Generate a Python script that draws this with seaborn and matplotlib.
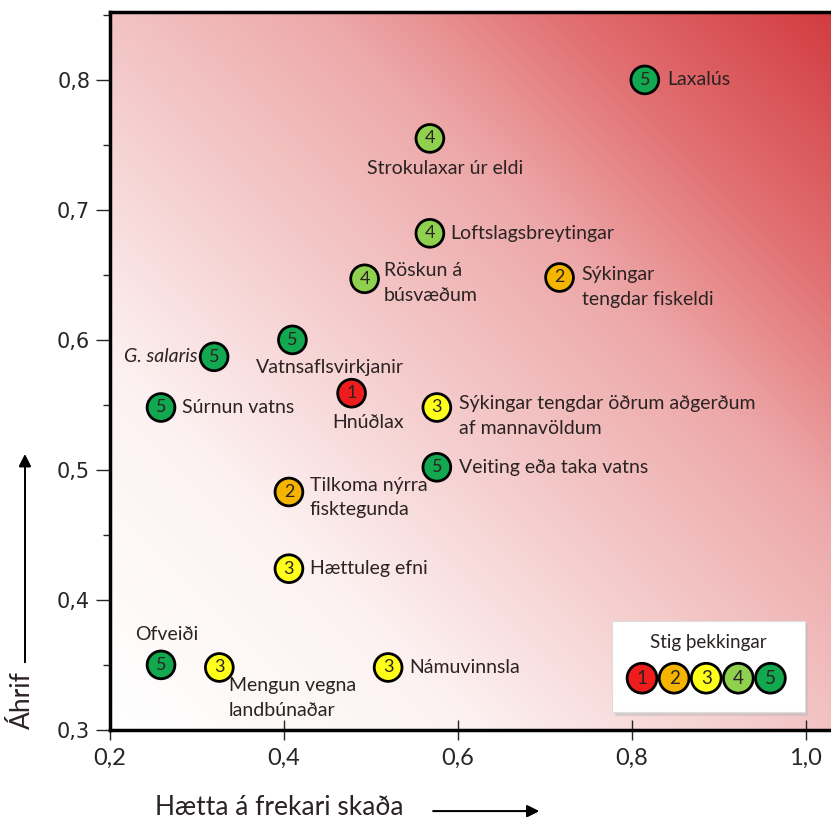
import numpy as np
import pandas as pd
import matplotlib
matplotlib.use("Agg")
import matplotlib.pyplot as plt
import seaborn as sns
from matplotlib.colors import LinearSegmentedColormap
from matplotlib.patches import Rectangle
from matplotlib.ticker import FuncFormatter, MultipleLocator

# data
names = ["Laxalús", "Strokulaxar úr eldi", "Loftslagsbreytingar", "Röskun á\nbúsvæðum",
         "Sýkingar\ntengdar fiskeldi", "Vatnsaflsvirkjanir", "G. salaris", "Hnúðlax",
         "Súrnun vatns", "Sýkingar tengdar öðrum aðgerðum\naf mannavöldum",
         "Veiting eða taka vatns", "Tilkoma nýrra\nfisktegunda", "Hættuleg efni",
         "Ofveiði", "Mengun vegna\nlandbúnaðar", "Námuvinnsla"]
risk = [0.815, 0.568, 0.568, 0.493, 0.717, 0.410, 0.320, 0.478,
        0.259, 0.576, 0.576, 0.406, 0.406, 0.259, 0.326, 0.520]
impact = [0.800, 0.755, 0.682, 0.647, 0.648, 0.600, 0.587, 0.559,
          0.548, 0.548, 0.502, 0.483, 0.424, 0.350, 0.348, 0.348]
knowledge = [5, 4, 4, 4, 2, 5, 5, 1, 5, 3, 5, 2, 3, 5, 3, 3]
levels = [1, 2, 3, 4, 5]
level_colors = ["#ee1c1c", "#f5b400", "#ffff1a", "#8fd14f", "#11a84f"]
x_ticks = [0.2, 0.4, 0.6, 0.8, 1.0]
y_ticks = [0.3, 0.4, 0.5, 0.6, 0.7, 0.8]

# label offsets in points (dx, dy, ha, va)
offsets = {
    "Laxalús": (16, 0, "left", "center"),
    "Strokulaxar úr eldi": (11, -22, "center", "center"),
    "Loftslagsbreytingar": (15, 0, "left", "center"),
    "Röskun á\nbúsvæðum": (14, 12, "left", "top"),
    "Sýkingar\ntengdar fiskeldi": (16, 8, "left", "top"),
    "Vatnsaflsvirkjanir": (27, -20, "center", "center"),
    "G. salaris": (-12, 0, "right", "center"),
    "Hnúðlax": (12, -21, "center", "center"),
    "Súrnun vatns": (15, 0, "left", "center"),
    "Sýkingar tengdar öðrum aðgerðum\naf mannavöldum": (16, 9, "left", "top"),
    "Veiting eða taka vatns": (16, 0, "left", "center"),
    "Tilkoma nýrra\nfisktegunda": (15, 11, "left", "top"),
    "Hættuleg efni": (15, 0, "left", "center"),
    "Ofveiði": (4, 22, "center", "center"),
    "Mengun vegna\nlandbúnaðar": (7, -7, "left", "top"),
    "Námuvinnsla": (15, 0, "left", "center"),
}

df = pd.DataFrame({"name": names, "risk": risk, "impact": impact, "level": knowledge})
palette = dict(zip(levels, level_colors))

sns.set_style("white")
plt.rcParams["font.family"] = ["Lato", "DejaVu Sans"]
txt_color = "#2b2222"

fig = plt.figure(figsize=(8.31, 8.21), dpi=100)
ax = fig.add_axes([0.132, 0.111, 0.868, 0.874])
xlim = (0.2, 1.029)
ylim = (0.3, 0.852)

# diagonal white -> red background
u, v = np.meshgrid(np.linspace(0, 1, 300), np.linspace(0, 1, 300))
t = (u + v) / 2
cmap = LinearSegmentedColormap.from_list("bg", [
    (0.0, "#ffffff"), (0.25, "#fdf2f2"), (0.5, "#f3c3c3"),
    (0.65, "#eda8a9"), (0.82, "#e16e70"), (1.0, "#d23c41")])
ax.imshow(t, cmap=cmap, origin="lower", extent=[*xlim, *ylim], aspect="auto",
          zorder=0, vmin=0, vmax=1)

sns.scatterplot(data=df, x="risk", y="impact", hue="level", palette=palette,
                s=400, edgecolor="black", linewidth=2, legend=False, ax=ax, zorder=3)

for _, r in df.iterrows():
    ax.text(r["risk"], r["impact"], str(r["level"]), ha="center", va="center",
            fontsize=13, color=txt_color, zorder=4)
    dx, dy, ha, va = offsets[r["name"]]
    style = "italic" if r["name"] == "G. salaris" else "normal"
    ax.annotate(r["name"], (r["risk"], r["impact"]), xytext=(dx, dy),
                textcoords="offset points", ha=ha, va=va, fontsize=14,
                color=txt_color, style=style, linespacing=1.55, zorder=4)

ax.set_xlim(*xlim)
ax.set_ylim(*ylim)
ax.set_xticks(x_ticks)
ax.set_yticks(y_ticks)
ax.yaxis.set_minor_locator(MultipleLocator(0.05))
comma = FuncFormatter(lambda val, pos: f"{val:.1f}".replace(".", ","))
ax.xaxis.set_major_formatter(comma)
ax.yaxis.set_major_formatter(comma)
ax.tick_params(axis="x", which="major", direction="inout", length=14, width=1,
               labelsize=17, pad=6, bottom=True)
ax.tick_params(axis="y", which="major", direction="out", length=10, width=1,
               labelsize=15, pad=4, left=True)
ax.tick_params(axis="y", which="minor", direction="out", length=5, width=1, left=True)
for lab in ax.get_yticklabels():
    lab.set_fontfamily("DejaVu Sans")
    lab.set_fontsize(15)
ax.set_xlabel("")
ax.set_ylabel("")
for side in ["left", "bottom", "top"]:
    ax.spines[side].set_linewidth(2.5)
    ax.spines[side].set_color("black")
ax.spines["right"].set_visible(False)

# knowledge legend box
ax.add_patch(Rectangle((0.700, 0.020), 0.268, 0.127, transform=ax.transAxes,
                       facecolor="#bbbbbb", edgecolor="none", alpha=0.5, zorder=5))
ax.add_patch(Rectangle((0.696, 0.025), 0.268, 0.127, transform=ax.transAxes,
                       facecolor="white", edgecolor="#dddddd", linewidth=0.8, zorder=6))
ax.text(0.830, 0.122, "Stig þekkingar", transform=ax.transAxes, ha="center",
        va="center", fontsize=13.5, color=txt_color, zorder=7)
lx = np.linspace(0.738, 0.916, len(levels))
ax.scatter(lx, [0.072] * len(levels), s=460, c=level_colors, edgecolors="black",
           linewidths=2, transform=ax.transAxes, zorder=7, clip_on=False)
for xx, lv in zip(lx, levels):
    ax.text(xx, 0.072, str(lv), transform=ax.transAxes, ha="center", va="center",
            fontsize=13.5, color=txt_color, zorder=8)

# axis titles with arrows
fig.text(0.187, 0.016, "Hætta á frekari skaða", fontsize=19, color=txt_color,
         ha="left", va="center")
fig.add_artist(plt.annotate("", xy=(0.652, 0.012), xytext=(0.518, 0.012),
                            xycoords="figure fraction",
                            arrowprops=dict(arrowstyle="-|>", color="black", lw=1.3,
                                            mutation_scale=18)))
fig.text(0.027, 0.112, "Áhrif", fontsize=19, color=txt_color, rotation=90,
         ha="center", va="bottom")
fig.add_artist(plt.annotate("", xy=(0.030, 0.450), xytext=(0.030, 0.190),
                            xycoords="figure fraction",
                            arrowprops=dict(arrowstyle="-|>", color="black", lw=1.3,
                                            mutation_scale=18)))

fig.savefig("out.png", dpi=100)
